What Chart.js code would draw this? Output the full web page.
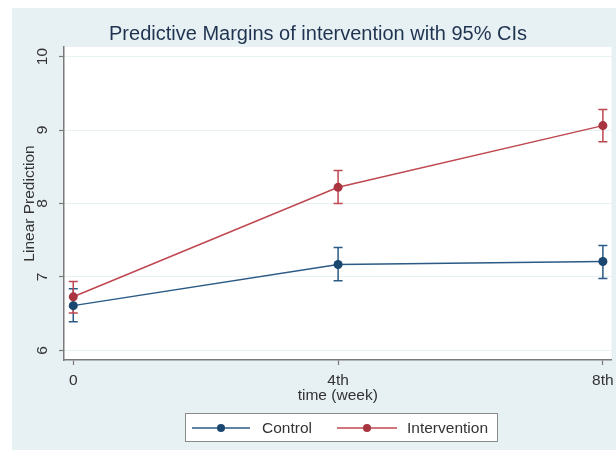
<!DOCTYPE html>
<html><head><meta charset="utf-8">
<script src="https://cdn.jsdelivr.net/npm/chart.js@4.4.0/dist/chart.umd.min.js"></script>
<style>html,body{margin:0;padding:0;background:#fff;overflow:hidden;}</style>
</head><body>
<canvas id="c" width="616" height="450"></canvas>
<script>
// ---- data ----
const weeks = [0, 4, 8];
const weekLabels = ['0', '4th', '8th'];
const yTicks = [6, 7, 8, 9, 10];
const seriesNames = ['Control', 'Intervention'];
const controlMean = [6.61, 7.17, 7.21];
const controlLow = [6.39, 6.95, 6.98];
const controlHigh = [6.84, 7.40, 7.43];
const interventionMean = [6.73, 8.22, 9.06];
const interventionLow = [6.51, 8.00, 8.84];
const interventionHigh = [6.94, 8.45, 9.28];
const titleText = 'Predictive Margins of intervention with 95% CIs';
const xTitle = 'time (week)';
const yTitle = 'Linear Prediction';

const FONT = '"Liberation Sans", Arial, sans-serif';
Chart.defaults.font.family = FONT;

const lineColors = ['#2a5a85', '#bf4750'];
const dotColors = ['#1a476f', '#a8353f'];
const lows = [controlLow, interventionLow];
const highs = [controlHigh, interventionHigh];

const bgPlugin = {
  id: 'bg',
  beforeDraw(chart) {
    const ctx = chart.ctx, a = chart.chartArea;
    ctx.save();
    ctx.fillStyle = '#ffffff';
    ctx.fillRect(0, 0, chart.width, chart.height);
    ctx.fillStyle = '#e7f0f3';
    ctx.fillRect(12, 8, chart.width - 12, chart.height - 8);
    ctx.fillStyle = '#ffffff';
    ctx.fillRect(a.left, a.top, a.right - a.left, a.bottom - a.top);
    ctx.restore();
  }
};

const errPlugin = {
  id: 'err',
  beforeDatasetsDraw(chart) {
    const ctx = chart.ctx, xs = chart.scales.x, ys = chart.scales.y;
    ctx.save();
    chart.data.datasets.forEach((ds, i) => {
      ctx.strokeStyle = lineColors[i];
      ctx.lineWidth = 1.5;
      weeks.forEach((w, j) => {
        const px = xs.getPixelForValue(w);
        const y1 = ys.getPixelForValue(lows[i][j]);
        const y2 = ys.getPixelForValue(highs[i][j]);
        ctx.beginPath();
        ctx.moveTo(px, y1); ctx.lineTo(px, y2);
        ctx.moveTo(px - 4.5, y1); ctx.lineTo(px + 4.5, y1);
        ctx.moveTo(px - 4.5, y2); ctx.lineTo(px + 4.5, y2);
        ctx.stroke();
      });
    });
    ctx.restore();
  }
};

const textPlugin = {
  id: 'texts',
  afterDraw(chart) {
    const ctx = chart.ctx, ys = chart.scales.y;
    ctx.save();
    // title
    ctx.fillStyle = '#1f3350';
    ctx.font = '20px ' + FONT;
    ctx.textAlign = 'center';
    ctx.textBaseline = 'middle';
    ctx.fillText(titleText, 318, 34);
    // y tick labels (rotated)
    ctx.fillStyle = '#333333';
    ctx.font = '15.5px ' + FONT;
    ys.ticks.forEach(t => {
      const py = ys.getPixelForValue(t.value);
      ctx.save();
      ctx.translate(43, py);
      ctx.rotate(-Math.PI / 2);
      ctx.fillText(String(t.value), 0, 0);
      ctx.restore();
    });
    // legend
    const bx = 185.5, by = 413.5, bw = 312, bh = 28;
    ctx.fillStyle = '#ffffff';
    ctx.fillRect(bx, by, bw, bh);
    ctx.strokeStyle = '#8a8a8a';
    ctx.lineWidth = 1;
    ctx.strokeRect(bx, by, bw, bh);
    const items = [
      {x0: 192, x1: 250, tx: 262},
      {x0: 337, x1: 397, tx: 407}
    ];
    const cy = 428;
    chart.data.datasets.forEach((ds, i) => {
      const it = items[i];
      ctx.strokeStyle = lineColors[i];
      ctx.lineWidth = 1.5;
      ctx.beginPath(); ctx.moveTo(it.x0, cy); ctx.lineTo(it.x1, cy); ctx.stroke();
      ctx.fillStyle = dotColors[i];
      ctx.beginPath(); ctx.arc((it.x0 + it.x1) / 2, cy, 4, 0, Math.PI * 2); ctx.fill();
      ctx.fillStyle = '#333333';
      ctx.font = '15.5px ' + FONT;
      ctx.textAlign = 'left';
      ctx.textBaseline = 'middle';
      ctx.fillText(ds.label, it.tx, cy + 1);
    });
    ctx.restore();
  }
};

const makeData = (arr) => weeks.map((w, j) => ({x: w, y: arr[j]}));

new Chart(document.getElementById('c'), {
  type: 'line',
  data: {
    datasets: [
      {label: seriesNames[0], data: makeData(controlMean), borderColor: lineColors[0], backgroundColor: dotColors[0],
       pointBackgroundColor: dotColors[0], pointBorderWidth: 0, pointRadius: 4.5, borderWidth: 1.5, tension: 0},
      {label: seriesNames[1], data: makeData(interventionMean), borderColor: lineColors[1], backgroundColor: dotColors[1],
       pointBackgroundColor: dotColors[1], pointBorderWidth: 0, pointRadius: 4.5, borderWidth: 1.5, tension: 0}
    ]
  },
  options: {
    responsive: false,
    animation: false,
    devicePixelRatio: 1,
    layout: {padding: {left: 0, right: 0, top: 47, bottom: 45}},
    plugins: {legend: {display: false}, tooltip: {enabled: false}, title: {display: false}},
    scales: {
      x: {
        type: 'linear', min: -0.14, max: 8.13,
        afterBuildTicks: s => { s.ticks = weeks.map(v => ({value: v})); },
        afterFit: s => { s.height = 45; s.paddingLeft = 0; s.paddingRight = 0; },
        ticks: {callback: (v, i) => weekLabels[i], font: {size: 15.5}, color: '#333333', padding: 6, maxRotation: 0, autoSkip: false},
        grid: {drawOnChartArea: false, drawTicks: true, tickLength: 5, tickColor: '#7a7a7a', tickWidth: 1.2},
        border: {color: '#7a7a7a', width: 1.5},
        title: {display: true, text: xTitle, font: {size: 15.5}, color: '#333333', padding: {top: 0, bottom: 0}}
      },
      y: {
        type: 'linear', min: 5.87, max: 10.13,
        afterBuildTicks: s => { s.ticks = yTicks.map(v => ({value: v})); },
        afterFit: s => { s.width = 64; s.paddingTop = 0; s.paddingBottom = 0; },
        ticks: {display: false},
        grid: {color: '#e8f1f3', lineWidth: 1, drawTicks: true, tickLength: 5, tickColor: '#7a7a7a', tickWidth: 1.2},
        border: {color: '#7a7a7a', width: 1.5},
        title: {display: true, text: yTitle, font: {size: 15.5}, color: '#333333', padding: {top: 20.7, bottom: 0}}
      }
    }
  },
  plugins: [bgPlugin, errPlugin, textPlugin]
});
</script>
</body></html>
